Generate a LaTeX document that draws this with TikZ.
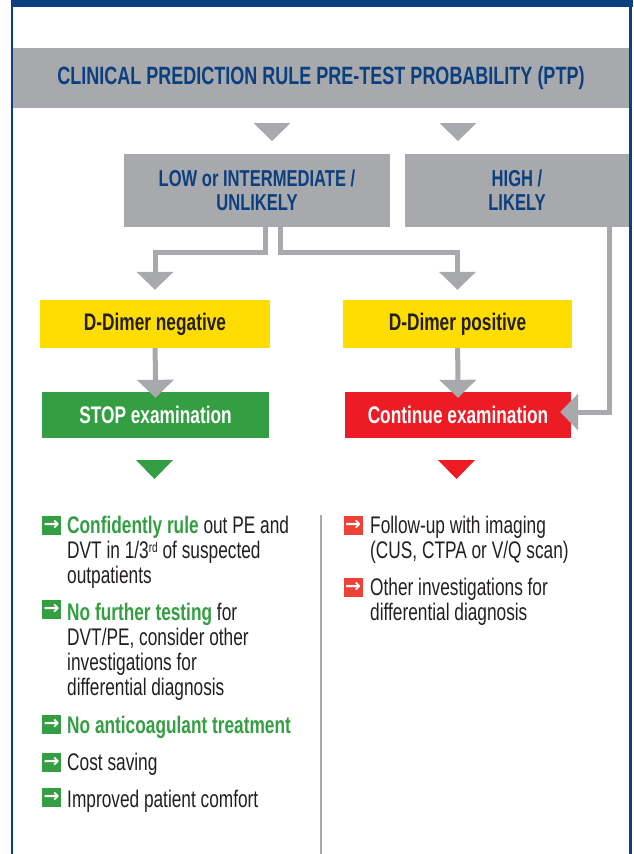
\documentclass[tikz,border=0pt]{standalone}
\usepackage{fontspec}
\setmainfont[FakeStretch=0.72]{Liberation Sans}
\newfontfamily\symfont{DejaVu Sans}
\usetikzlibrary{arrows.meta}

\definecolor{ptpblue}{HTML}{0B3F80}
\definecolor{boxgray}{HTML}{A7A9AC}
\definecolor{dimeryellow}{HTML}{FFDD00}
\definecolor{stopgreen}{HTML}{339E42}
\definecolor{contred}{HTML}{ED1C24}
\definecolor{bulred}{HTML}{EF4136}
\definecolor{txtdark}{HTML}{231F20}

\tikzset{
    graybox/.style={fill=boxgray, text=ptpblue, align=center, inner sep=0pt,
        font=\bfseries\fontsize{23}{24}\selectfont},
    dimerbox/.style={fill=dimeryellow, text=txtdark, inner sep=0pt,
        minimum height=48pt, font=\bfseries\fontsize{24}{24}\selectfont},
    exambox/.style={text=white, inner sep=0pt,
        minimum height=46pt, font=\bfseries\fontsize{24}{24}\selectfont},
    conn/.style={draw=boxgray, line width=5pt, -{Triangle[width=36pt,length=18pt]}},
    bullet/.style={minimum size=19pt, inner sep=0pt, text=white,
        font=\symfont\bfseries\fontsize{19}{19}\selectfont},
    item/.style={text=txtdark, align=left, inner sep=0pt, anchor=base west,
        font=\fontsize{24}{25}\selectfont}
}

\begin{document}
\begin{tikzpicture}[x=1pt,y=-1pt]
    \useasboundingbox (0,0) rectangle (633,854);
    % frame
    \fill[ptpblue] (10.5,0) rectangle (633,7);
    \fill[ptpblue] (10.5,0) rectangle (12.5,854);
    \fill[ptpblue] (629,0) rectangle (632,854);

    \node[graybox, minimum width=616pt, minimum height=60pt,
        font=\bfseries\fontsize{25}{24}\selectfont] (ptp) at (321,78)
        {CLINICAL PREDICTION RULE PRE-TEST PROBABILITY (PTP)};
    \foreach \x in {272,458}
        \fill[boxgray] (\x-18.5,123) -- (\x+18.5,123) -- (\x,141) -- cycle;

    \node[graybox, minimum width=266pt, minimum height=73pt] (low) at (257,190.5)
        {LOW or INTERMEDIATE /\\UNLIKELY};
    \node[graybox, minimum width=224pt, minimum height=73pt] (high) at (517,190.5)
        {HIGH /\\LIKELY};

    \node[dimerbox, minimum width=230pt] (neg) at (155,324) {D-Dimer negative};
    \node[dimerbox, minimum width=229pt] (pos) at (457.5,324) {D-Dimer positive};

    \node[exambox, fill=stopgreen, minimum width=227pt] (stop) at (155.5,415) {STOP examination};
    \node[exambox, fill=contred, minimum width=226pt] (cont) at (458,415) {Continue examination};

    % connectors
    \draw[conn] ([xshift=8pt]low.south) -- ++(0,25) -| ([yshift=10pt]neg.north);
    \draw[conn] ([xshift=23pt]low.south) -- ++(0,25) -| ([yshift=10pt]pos.north);
    \draw[conn] ([xshift=92.5pt]high.south) |- ([xshift=-11pt,yshift=3pt]cont.east);
    \draw[conn] (neg) -- ([yshift=-6pt]stop.north);
    \draw[conn] (pos) -- ([yshift=-6pt]cont.north);

    \fill[stopgreen] (136,460) -- (173,460) -- (154.5,479) -- cycle;
    \fill[contred] (438,460) -- (475,460) -- (456.5,479) -- cycle;

    \draw[boxgray, line width=1.5pt] (321,515) -- (321,854);

    % outcomes
    \foreach \y [count=\i] in {525.5,609,724,762,797.5}
        \node[bullet, fill=stopgreen] (gb\i) at (51.5,\y) {→};
    \foreach \y [count=\i] in {525.5,587.5}
        \node[bullet, fill=bulred] (rb\i) at (353,\y) {→};

    % base anchor sits on the last line
    \node[item] (neg1) at (67,583) {{\bfseries\color{stopgreen}Confidently rule} out PE and\\
        DVT in 1/3{\fontsize{14}{14}\selectfont\raisebox{6pt}{rd}} of suspected\\outpatients};
    \node[item] (neg2) at (67,695) {{\bfseries\color{stopgreen}No further testing} for\\
        DVT/PE, consider other\\investigations for\\differential diagnosis};
    \node[item] (neg3) at (67,733) {\bfseries\color{stopgreen}No anticoagulant treatment};
    \node[item] (neg4) at (67,770) {Cost saving};
    \node[item] (neg5) at (67,807) {Improved patient comfort};

    \node[item] (pos1) at (370,558) {Follow-up with imaging\\(CUS, CTPA or V/Q scan)};
    \node[item] (pos2) at (370,620) {Other investigations for\\differential diagnosis};
\end{tikzpicture}
\end{document}
